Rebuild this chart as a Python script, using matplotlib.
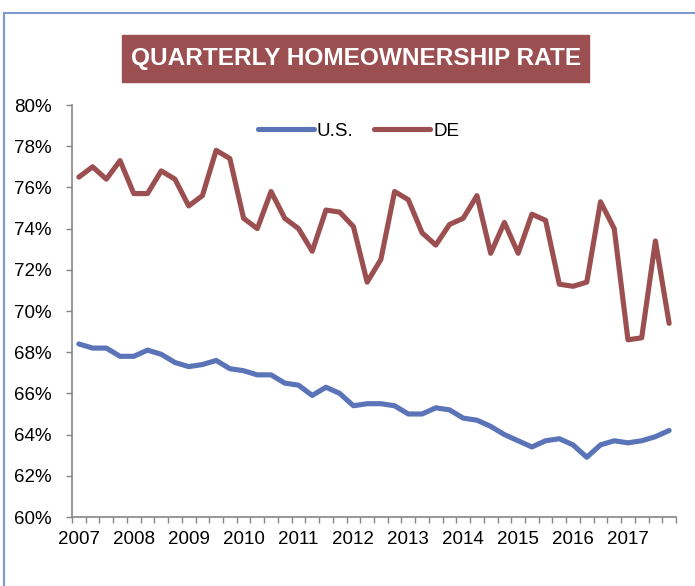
import numpy as np
import matplotlib
matplotlib.use("Agg")
import matplotlib.pyplot as plt
from matplotlib.patches import Rectangle
from matplotlib.ticker import FixedLocator, FuncFormatter

# quarterly homeownership rate, 2007Q1 .. 2017Q4
years = [str(y) for y in range(2007, 2018)]
us_rate = [68.4, 68.2, 68.2, 67.8, 67.8, 68.1, 67.9, 67.5, 67.3, 67.4, 67.6,
           67.2, 67.1, 66.9, 66.9, 66.5, 66.4, 65.9, 66.3, 66.0, 65.4, 65.5,
           65.5, 65.4, 65.0, 65.0, 65.3, 65.2, 64.8, 64.7, 64.4, 64.0, 63.7,
           63.4, 63.7, 63.8, 63.5, 62.9, 63.5, 63.7, 63.6, 63.7, 63.9, 64.2]
de_rate = [76.5, 77.0, 76.4, 77.3, 75.7, 75.7, 76.8, 76.4, 75.1, 75.6, 77.8,
           77.4, 74.5, 74.0, 75.8, 74.5, 74.0, 72.9, 74.9, 74.8, 74.1, 71.4,
           72.5, 75.8, 75.4, 73.8, 73.2, 74.2, 74.5, 75.6, 72.8, 74.3, 72.8,
           74.7, 74.4, 71.3, 71.2, 71.4, 75.3, 74.0, 68.6, 68.7, 73.4, 69.4]

blue = "#5B74B8"
red = "#9C4F50"
grey = "#868686"

plt.rcParams['font.family'] = ['Liberation Sans', 'DejaVu Sans']

W, H = 695, 586
fig = plt.figure(figsize=(W / 100, H / 100), dpi=100)

# outer chart frame
fig.patches.append(Rectangle((4 / W, -0.1), 1.2, 1 - 13 / H + 0.1,
                             transform=fig.transFigure, fill=False,
                             edgecolor="#7F9ACF", linewidth=1.5))

ax = fig.add_axes([72 / W, (H - 517) / H, 604 / W, 412 / H])
x = np.arange(len(us_rate))
ax.plot(x, us_rate, color=blue, lw=3.7, solid_joinstyle='round',
        solid_capstyle='round', label="U.S.")
ax.plot(x, de_rate, color=red, lw=3.7, solid_joinstyle='round',
        solid_capstyle='round', label="DE")

ax.set_xlim(-0.5, len(us_rate) - 0.5)
ax.set_ylim(60, 80)
ax.set_yticks(np.arange(60, 81, 2))
ax.yaxis.set_major_formatter(FuncFormatter(lambda v, p: f"{v:.0f}%"))

ax.xaxis.set_major_locator(FixedLocator(np.arange(0, len(us_rate), 4)))
ax.set_xticklabels(years)
ax.xaxis.set_minor_locator(FixedLocator(np.arange(-0.5, len(us_rate), 1)))
ax.tick_params(axis='x', which='major', length=0, pad=10, labelsize=13.5)
ax.tick_params(axis='x', which='minor', length=4, width=1, color=grey,
               direction='out')
ax.tick_params(axis='y', length=4.5, width=1, color=grey, pad=10,
               labelsize=13.5)

for s in ['top', 'right']:
    ax.spines[s].set_visible(False)
for s in ['left', 'bottom']:
    ax.spines[s].set_color(grey)
    ax.spines[s].set_linewidth(1.2)

leg = ax.legend(loc='center', bbox_to_anchor=(0.474, 0.937), ncol=2,
                frameon=False, fontsize=13.5, handlelength=3.0,
                handletextpad=0.15, columnspacing=1.1)

# title box
fig.patches.append(Rectangle((122 / W, 1 - 82 / H), 467 / W, 47 / H,
                             transform=fig.transFigure, color=red))
fig.text(356 / W, 1 - 58.5 / H, "QUARTERLY HOMEOWNERSHIP RATE",
         ha='center', va='center', color='white', fontweight='bold',
         fontsize=17.6)

fig.savefig("out.png", dpi=100)
